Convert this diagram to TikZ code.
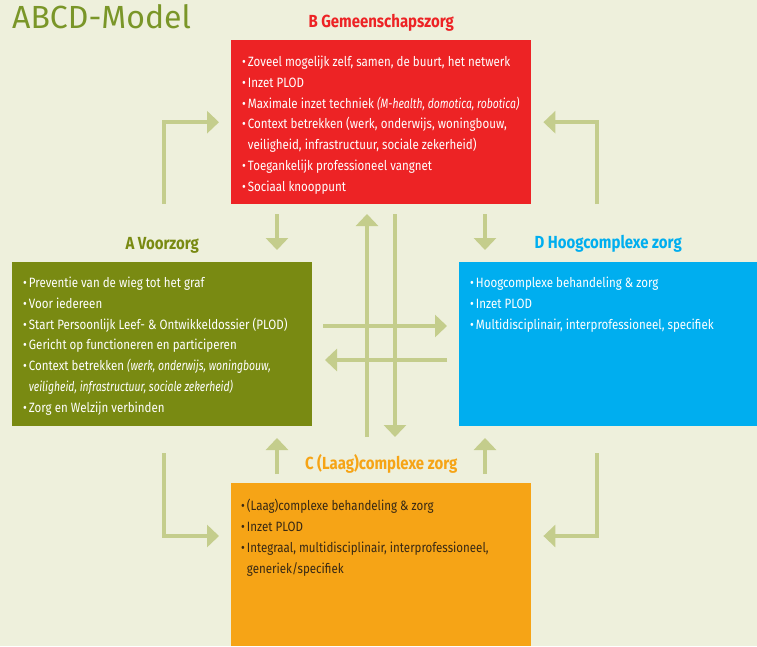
\documentclass[tikz,border=0pt]{standalone}
\usepackage{fontspec}
\setmainfont{Fira Sans}[FakeStretch=0.855,ItalicFeatures={FakeStretch=0.77}]
\newfontfamily\titlefont{Fira Sans}
\usetikzlibrary{arrows.meta,positioning}
\definecolor{bgcream}{RGB}{238,240,220}
\definecolor{arrowgreen}{RGB}{196,205,140}
\definecolor{titlegreen}{RGB}{122,150,40}
\definecolor{zorgred}{RGB}{237,35,37}
\definecolor{zorgolive}{RGB}{121,138,18}
\definecolor{zorgblue}{RGB}{0,174,239}
\definecolor{zorgorange}{RGB}{246,164,22}
\definecolor{darktext}{RGB}{55,40,20}
\newcommand{\bul}{\textbullet\hspace{2pt}}
\newcommand{\ind}{\hphantom{\textbullet\hspace{2pt}}}

\begin{document}
\begin{tikzpicture}[x=1pt,y=-1pt,
  box/.style={anchor=north west,minimum height=164pt,inner sep=0pt},
  boxtext/.style={anchor=base west,align=left,inner sep=0pt,font=\fontsize{13.5}{20.7}\selectfont},
  head/.style={anchor=base,inner sep=0pt,font=\fontsize{17.5}{20}\bfseries\selectfont},
  link/.style={draw=arrowgreen,line width=4.5pt,-{Triangle[width=22pt,length=12pt]}}]
\fill[bgcream] (0,0) rectangle (757,646);
\useasboundingbox (0,0) rectangle (757,646);

% title
\node[anchor=base west,inner sep=0pt,text=titlegreen,font=\fontsize{32}{36}\titlefont] (model) at (12,28) {ABCD-Model};

% the four boxes
\node[box,fill=zorgred,minimum width=300pt] (B) at (231,40) {};
\node[box,fill=zorgolive,minimum width=300pt] (A) at (12,262) {};
\node[box,fill=zorgblue,minimum width=298pt] (D) at (459,262) {};
\node[box,fill=zorgorange,minimum width=300pt,minimum height=163pt] (C) at (231,483) {};

% headings
\node[head,text=zorgred] (Bhead) at ([yshift=13pt]B.north) {B Gemeenschapszorg};
\node[head,text=zorgolive] (Ahead) at ([yshift=13pt]A.north) {A Voorzorg};
\node[head,text=zorgblue] (Dhead) at ([yshift=14pt]D.north) {D Hoogcomplexe zorg};
\node[head,text=zorgorange] (Chead) at ([yshift=14pt]C.north) {C (Laag)complexe zorg};

% texts (placed at the baseline of their last line)
\node[boxtext,text=white] (Btext) at (242,191) {\bul Zoveel mogelijk zelf, samen, de buurt, het netwerk\\
\bul Inzet PLOD\\
\bul Maximale inzet techniek \textit{(M-health, domotica, robotica)}\\
\bul Context betrekken (werk, onderwijs, woningbouw,\\
\ind veiligheid, infrastructuur, sociale zekerheid)\\
\bul Toegankelijk professioneel vangnet\\
\bul Sociaal knooppunt};
\node[boxtext,text=white] (Atext) at (23,412) {\bul Preventie van de wieg tot het graf\\
\bul Voor iedereen\\
\bul Start Persoonlijk Leef- \& Ontwikkeldossier (PLOD)\\
\bul Gericht op functioneren en participeren\\
\bul Context betrekken \textit{(werk, onderwijs, woningbouw,}\\
\ind\textit{veiligheid, infrastructuur, sociale zekerheid)}\\
\bul Zorg en Welzijn verbinden};
\node[boxtext,text=white] (Dtext) at (470,329) {\bul Hoogcomplexe behandeling \& zorg\\
\bul Inzet PLOD\\
\bul Multidisciplinair, interprofessioneel, specifiek};
\node[boxtext,text=darktext] (Ctext) at (241,573) {\bul (Laag)complexe behandeling \& zorg\\
\bul Inzet PLOD\\
\bul Integraal, multidisciplinair, interprofessioneel,\\
\ind generiek/specifiek};

% elbows round the outside
\draw[link] (164,204) |- ([xshift=-12pt]B.west);
\draw[link] (597,204) |- ([xshift=12pt]B.east);
\draw[link] (164,453) |- ([shift={(-12,53)}]C.north west);
\draw[link] (597,453) |- ([shift={(12,53)}]C.north east);

% short arrows to and from the headings
\foreach \x in {277,485} {
\draw[link] (\x,214) -- (\x,250);
\draw[link] (\x,474) -- (\x,438);
}

% the cross in the middle
\draw[link] (367,437) -- (367,214);
\draw[link] (395,214) -- (395,437);
\draw[link] (323,326) -- (447,326);
\draw[link] (447,360) -- (325,360);
\end{tikzpicture}
\end{document}
